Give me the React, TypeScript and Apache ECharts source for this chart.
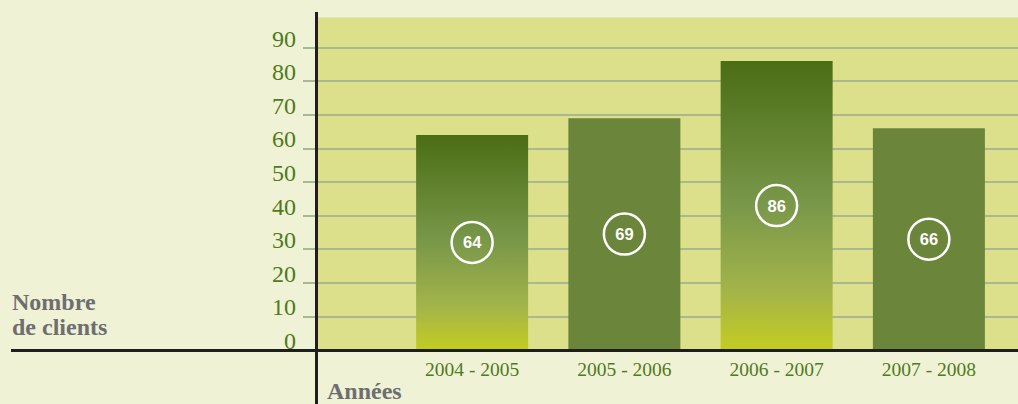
import React, { useEffect, useRef } from "react";
import * as echarts from "echarts";

const categories = ["2004 - 2005", "2005 - 2006", "2006 - 2007", "2007 - 2008"];
const clients = [64, 69, 86, 66];
const gradientBar = [true, false, true, false];
const yTicks = [0, 10, 20, 30, 40, 50, 60, 70, 80, 90];

const GREEN_TEXT = "#4f7a1e";
const GRAY_TEXT = "#6e6e70";
const GRID_LINE = "#a9b893";

export default function App() {
  const ref = useRef<HTMLDivElement>(null);
  useEffect(() => {
    const chart = echarts.init(ref.current!, undefined, { renderer: "svg" });
    const grad = new echarts.graphic.LinearGradient(0, 0, 0, 1, [
      { offset: 0, color: "#4a6d15" },
      { offset: 0.5, color: "#7a984a" },
      { offset: 0.8, color: "#a3b44a" },
      { offset: 1, color: "#c4cd21" },
    ]);
    const splitColors = yTicks.map(() => GRID_LINE).concat(["rgba(0,0,0,0)"]);
    chart.setOption({
      animation: false,
      backgroundColor: "#eff2d5",
      grid: [
        {
          left: 318,
          right: 0,
          top: 17.4,
          bottom: 54,
          show: true,
          backgroundColor: "#dde08a",
          borderWidth: 0,
        },
        { left: 396, right: 13, top: 17.4, bottom: 54 },
      ],
      xAxis: [
        { type: "category", gridIndex: 0, data: categories, show: false },
        {
          type: "category",
          gridIndex: 1,
          data: categories,
          axisLine: { show: false },
          axisTick: { show: false },
          axisLabel: {
            color: GREEN_TEXT,
            fontFamily: "Liberation Serif",
            fontSize: 19.5,
            margin: 9,
          },
        },
      ],
      yAxis: [
        {
          type: "value",
          gridIndex: 0,
          min: 0,
          max: 99,
          interval: 10,
          axisLine: { show: false },
          axisTick: {
            show: true,
            length: 15,
            customValues: yTicks,
            lineStyle: { color: GRID_LINE, width: 2 },
          },
          axisLabel: {
            customValues: yTicks,
            margin: 22,
            showMinLabel: true,
            showMaxLabel: true,
            color: GREEN_TEXT,
            fontFamily: "Liberation Serif",
            fontSize: 24,
            lineHeight: 18,
            verticalAlign: "bottom",
            formatter: (v: number) => (v % 10 === 0 ? String(v) : ""),
          },
          splitLine: { show: true, lineStyle: { color: splitColors, width: 2 } },
        },
        { type: "value", gridIndex: 1, min: 0, max: 99, show: false },
      ],
      series: [
        {
          type: "bar",
          xAxisIndex: 1,
          yAxisIndex: 1,
          barWidth: 112,
          data: clients.map((v, i) => ({
            value: v,
            itemStyle: { color: gradientBar[i] ? grad : "#6b853a" },
          })),
          label: {
            show: true,
            position: "inside",
            color: "#ffffff",
            fontFamily: "Liberation Sans",
            fontWeight: "bold",
            fontSize: 16.5,
            borderColor: "#ffffff",
            borderWidth: 2.5,
            borderRadius: 23,
            width: 41,
            height: 41,
            lineHeight: 41,
            align: "center",
            verticalAlign: "middle",
          },
        },
      ],
      graphic: [
        {
          type: "line",
          shape: { x1: 316.5, y1: 12, x2: 316.5, y2: 404 },
          style: { stroke: "#1e1e1c", lineWidth: 3 },
          z: 100,
        },
        {
          type: "line",
          shape: { x1: 11, y1: 350.5, x2: 1018, y2: 350.5 },
          style: { stroke: "#1e1e1c", lineWidth: 3 },
          z: 100,
        },
        {
          type: "text",
          left: 12,
          top: 289,
          style: {
            text: "Nombre\nde clients",
            fill: GRAY_TEXT,
            font: "bold 24px 'Liberation Serif'",
            lineHeight: 25,
          },
          z: 100,
        },
        {
          type: "text",
          left: 327,
          top: 379,
          style: {
            text: "Années",
            fill: GRAY_TEXT,
            font: "bold 24px 'Liberation Serif'",
          },
          z: 100,
        },
      ],
    });
    return () => chart.dispose();
  }, []);
  return (
    <div
      ref={ref}
      style={{ position: "absolute", left: 0, top: 0, width: 1018, height: 404 }}
    />
  );
}
